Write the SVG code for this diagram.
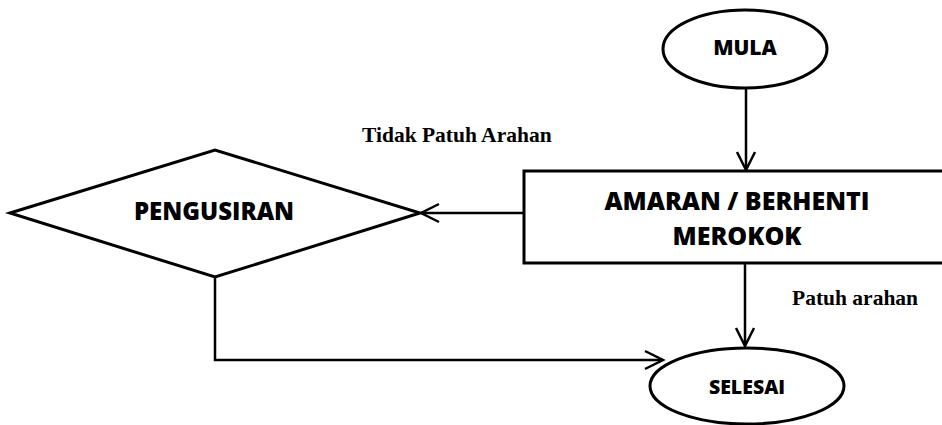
<svg xmlns="http://www.w3.org/2000/svg" width="942" height="425" viewBox="0 0 942 425">
<style>
.shape{fill:#fff;stroke:#000;stroke-width:3}
.lbl{font-family:"Open Sans","Liberation Sans",sans-serif;font-weight:800;fill:#000;text-anchor:middle}
.cap{font-family:"Liberation Serif","Times New Roman",serif;font-weight:bold;font-size:21.5px;fill:#000}
.conn{fill:none;stroke:#000;stroke-width:2.5}
</style>
<defs>
<marker id="arr" markerUnits="userSpaceOnUse" markerWidth="24" markerHeight="24" viewBox="-20 -12 24 24" refX="0" refY="0" orient="auto">
<path d="M-18,-9 L0,0 L-18,9" fill="none" stroke="#000" stroke-width="2.5"/>
</marker>
</defs>
<rect width="942" height="425" fill="#fff"/>
<g id="connectors">
<line class="conn" x1="746" y1="88" x2="746" y2="170" marker-end="url(#arr)"/>
<line class="conn" x1="524" y1="213" x2="421" y2="213" marker-end="url(#arr)"/>
<line class="conn" x1="745" y1="263" x2="745" y2="346" marker-end="url(#arr)"/>
<polyline class="conn" points="215,277 215,360 663,360" stroke="#333" marker-end="url(#arr)"/>
</g>
<g id="mula">
<ellipse class="shape" cx="745" cy="49" rx="82" ry="39"/>
<text class="lbl" x="745" y="55" font-size="21">MULA</text>
</g>
<g id="amaran">
<rect class="shape" x="524" y="171" width="430" height="92"/>
<text class="lbl" x="737" y="210" font-size="25">AMARAN / BERHENTI</text>
<text class="lbl" x="737" y="245" font-size="25">MEROKOK</text>
</g>
<g id="pengusiran">
<polygon class="shape" points="10,213 215,150 420,213 215,277"/>
<text class="lbl" x="214" y="220" font-size="24">PENGUSIRAN</text>
</g>
<g id="selesai">
<ellipse class="shape" cx="747" cy="386" rx="97" ry="38"/>
<text class="lbl" x="747" y="394" font-size="19.5">SELESAI</text>
</g>
<g id="labels">
<text class="cap" x="362" y="142">Tidak Patuh Arahan</text>
<text class="cap" x="792" y="305">Patuh arahan</text>
</g>
</svg>
